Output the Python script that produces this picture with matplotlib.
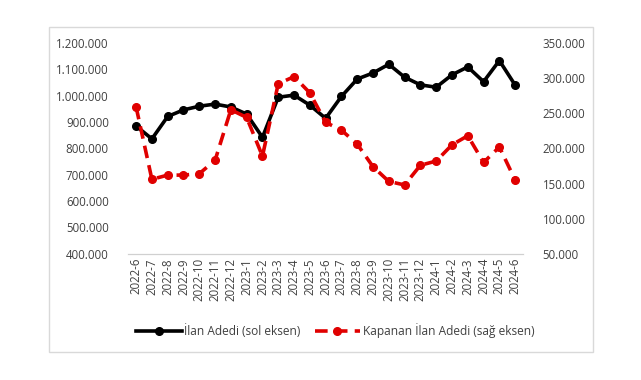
import matplotlib
matplotlib.use("Agg")
import matplotlib.pyplot as plt
from matplotlib.patches import Rectangle
from matplotlib.ticker import FuncFormatter, MultipleLocator

months = ["2022-6", "2022-7", "2022-8", "2022-9", "2022-10", "2022-11", "2022-12",
          "2023-1", "2023-2", "2023-3", "2023-4", "2023-5", "2023-6", "2023-7",
          "2023-8", "2023-9", "2023-10", "2023-11", "2023-12", "2024-1", "2024-2",
          "2024-3", "2024-4", "2024-5", "2024-6"]
ilan_adedi = [885000, 836000, 921000, 946000, 960000, 968000, 957000,
              930000, 842000, 994000, 1002000, 964000, 914000, 997000,
              1063000, 1086000, 1119000, 1070000, 1041000, 1032000, 1079000,
              1109000, 1053000, 1133000, 1040000]
kapanan_ilan = [259000, 156000, 162000, 162000, 164000, 183000, 255000,
                244000, 189000, 292000, 302000, 279000, 237000, 226000,
                206000, 174000, 153000, 148000, 176000, 182000, 205000,
                218000, 180000, 202000, 155000]

plt.rcParams['font.family'] = ['Open Sans', 'DejaVu Sans']

fig = plt.figure(figsize=(6.41, 3.80), dpi=100)
ax = fig.add_axes([0.200, 0.332, 0.616, 0.555])
ax2 = ax.twinx()

x = list(range(len(months)))
l1, = ax.plot(x, ilan_adedi, color='black', lw=2.6, marker='o', ms=5.5,
              label='İlan Adedi (sol eksen)', zorder=3)
l2, = ax2.plot(x, kapanan_ilan, color='#e00000', lw=2.6, ls=(0, (3.5, 2)), marker='o', ms=5.5,
               label='Kapanan İlan Adedi (sağ eksen)', zorder=3)
l2.set_markeredgecolor('#e00000')

ax.set_xlim(-0.5, len(months) - 0.5)
ax.set_ylim(400000, 1200000)
ax2.set_ylim(50000, 350000)
ax.yaxis.set_major_locator(MultipleLocator(100000))
ax2.yaxis.set_major_locator(MultipleLocator(50000))
fmt = FuncFormatter(lambda v, p: f"{int(round(v)):,}".replace(",", "."))
ax.yaxis.set_major_formatter(fmt)
ax2.yaxis.set_major_formatter(fmt)

ax.set_xticks(x)
ax.set_xticklabels(months, rotation=90)

tick_color = '#404040'
for a in (ax, ax2):
    for s in ('top', 'left', 'right'):
        a.spines[s].set_visible(False)
    a.spines['bottom'].set_color('#d0d0d0')
    a.tick_params(length=0, labelsize=8.3, labelcolor=tick_color)
ax.tick_params(axis='y', pad=14)
ax2.tick_params(axis='y', pad=14)
ax.tick_params(axis='x', pad=3)

fig.legend(handles=[l1, l2], loc='center', bbox_to_anchor=(0.523, 0.129), ncol=2,
           frameon=False, fontsize=8.6, handlelength=3.8, handletextpad=0.2, columnspacing=1.2,
           labelcolor=tick_color)

fig.patches.append(Rectangle((49 / 641, 1 - 352 / 380), (593 - 49) / 641, (352 - 27) / 380,
                             transform=fig.transFigure, fill=False, edgecolor='#d9d9d9', lw=1))

fig.savefig('out.png', dpi=100)
